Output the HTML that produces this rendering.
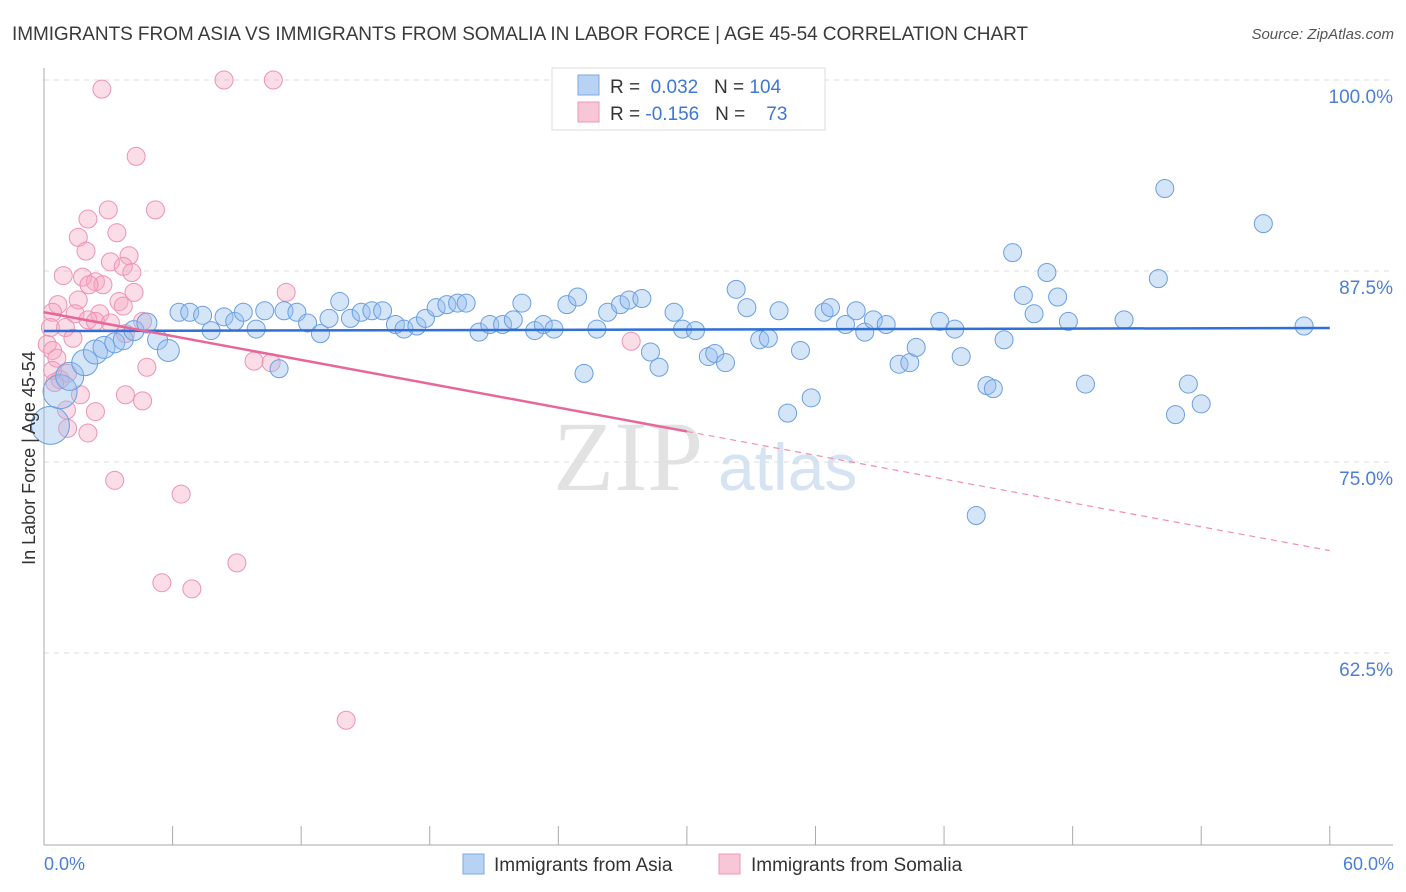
<!DOCTYPE html>
<html><head><meta charset="utf-8"><style>
body{margin:0;background:#fff;font-family:"Liberation Sans",sans-serif;}
#wrap{position:relative;width:1406px;height:892px;overflow:hidden;}
</style></head><body>
<div id="wrap">
<svg id="svg" width="1406" height="892">
<text x="12" y="40" font-size="19" fill="#3a3a3a" textLength="1016">IMMIGRANTS FROM ASIA VS IMMIGRANTS FROM SOMALIA IN LABOR FORCE | AGE 45-54 CORRELATION CHART</text>
<text x="1394" y="39" font-size="15" fill="#555" font-style="italic" text-anchor="end">Source: ZipAtlas.com</text>
<text x="553" y="490" font-size="100" fill="#e2e2e2" font-family="Liberation Serif,serif">ZIP</text>
<text x="718" y="490" font-size="66" fill="#d6e3f3">atlas</text>
<g id="grid"></g><g id="axes"></g><g id="pink"></g><g id="blue"></g><g id="lines"></g>
<text transform="translate(35,458) rotate(-90)" font-size="18" fill="#333" text-anchor="middle">In Labor Force | Age 45-54</text>
<text x="44" y="870" font-size="18" fill="#4a7fd8">0.0%</text>
<text x="1394" y="870" font-size="18" fill="#4a7fd8" text-anchor="end">60.0%</text>
<g>
<rect x="552" y="68" width="273" height="62" fill="#fff" stroke="#ddd"/>
<rect x="578" y="75" width="21" height="20" fill="#b8d2f3" stroke="#7aa8e6"/>
<rect x="578" y="102" width="21" height="20" fill="#f8c6d6" stroke="#ee98b4"/>
<text x="610" y="93" font-size="19" fill="#333">R = <tspan fill="#3f77d4">&#160;0.032</tspan>&#160;&#160; N = <tspan fill="#3f77d4">104</tspan></text>
<text x="610" y="120" font-size="19" fill="#333">R = <tspan fill="#3f77d4">-0.156</tspan>&#160;&#160; N = <tspan fill="#3f77d4">&#160;&#160; 73</tspan></text>
</g>
<g>
<rect x="463" y="854" width="21" height="20" fill="#b8d2f3" stroke="#7aa8e6"/>
<text x="494" y="871" font-size="19" fill="#333">Immigrants from Asia</text>
<rect x="719" y="854" width="21" height="20" fill="#f8c6d6" stroke="#ee98b4"/>
<text x="751" y="871" font-size="19" fill="#333">Immigrants from Somalia</text>
</g>
</svg></div>
<script>
const yTicks=[100,87.5,75,62.5];
const yTickLabels=["100.0%","87.5%","75.0%","62.5%"];
const asiaX=[0.3,0.75,1.2,1.9,2.4,2.8,3.3,3.7,4.2,4.8,5.3,5.8,6.3,6.8,7.4,7.8,8.4,8.9,9.3,9.9,10.3,10.97,11.2,11.8,12.3,12.9,13.3,13.8,14.3,14.8,15.3,15.8,16.4,16.8,17.4,17.8,18.3,18.8,19.3,19.7,20.3,20.8,21.4,21.9,22.3,22.9,23.3,23.8,24.4,24.9,25.2,25.8,26.3,26.9,27.3,27.9,28.3,28.7,29.4,29.8,30.4,31,31.3,31.8,32.3,32.8,33.4,33.8,34.3,34.7,35.3,35.8,36.4,36.7,37.4,37.9,38.3,38.7,39.3,39.9,40.4,40.7,41.8,42.5,42.8,43.5,44,44.3,44.8,45.2,45.7,46.2,46.8,47.3,47.8,48.6,50.4,52,52.3,52.8,53.4,54,56.9,58.8];
const asiaY=[77.4,79.6,80.6,81.5,82.2,82.5,82.8,83.0,83.6,84.1,83.0,82.3,84.8,84.8,84.6,83.6,84.5,84.2,84.8,83.7,84.9,81.1,84.9,84.8,84.1,83.4,84.4,85.5,84.4,84.8,84.9,84.9,84.0,83.7,83.9,84.4,85.1,85.3,85.4,85.4,83.5,84.0,84.0,84.3,85.4,83.6,84.0,83.7,85.3,85.8,80.8,83.7,84.8,85.3,85.6,85.7,82.2,81.2,84.8,83.7,83.6,81.9,82.1,81.5,86.3,85.1,83.0,83.1,84.9,78.2,82.3,79.2,84.8,85.1,84.0,84.9,83.5,84.3,84.0,81.4,81.5,82.5,84.2,83.7,81.9,71.5,80.0,79.8,83.0,88.7,85.9,84.7,87.4,85.8,84.2,80.1,84.3,87,92.9,78.1,80.1,78.8,90.6,83.9];
const asiaR=[19,17,14,13,12,11,10,10,10,10,10,11];
const somX=[8.4,10.7,2.7,4.3,3,5.2,2.05,3.4,1.6,1.96,3.97,3.1,3.7,4.1,0.9,1.8,2.4,2.75,2.1,4.2,11.3,1.6,3.5,0.65,3.7,0.4,1.45,2.6,2.05,2.4,3.1,4.6,0.3,1,3.8,1.35,0.15,0.4,0.6,4.8,9.8,10.6,1.1,0.75,1.7,3.8,4.6,1.05,2.4,1.1,2.05,3.3,6.4,9,5.5,6.9,14.1,27.4,0.5,0.4];
const somY=[100,100,99.4,95.0,91.5,91.5,90.9,90.0,89.7,88.8,88.5,88.1,87.8,87.4,87.2,87.1,86.8,86.6,86.6,86.1,86.1,85.6,85.5,85.3,85.2,84.8,84.7,84.7,84.3,84.2,84.1,84.2,83.8,83.8,83.4,83.1,82.7,82.3,81.8,81.2,81.6,81.5,80.8,80.4,79.4,79.4,79.0,78.4,78.3,77.2,76.9,73.8,72.9,68.4,67.1,66.7,58.1,82.9,80.2,81.0];
const asiaTrend=[83.57,83.77];
const somTrend=[84.8,69.2];
const NS="http://www.w3.org/2000/svg";
const X=v=>44+v*21.43, Y=v=>80+(100-v)*15.28;
function mk(tag,attrs,parent){const e=document.createElementNS(NS,tag);for(const k in attrs)e.setAttribute(k,attrs[k]);parent.appendChild(e);return e;}
const grid=document.getElementById('grid'),axes=document.getElementById('axes');
yTicks.forEach((t,i)=>{
 const l=mk('line',{x1:44,x2:1393,y1:Y(t),y2:Y(t),stroke:'#ddd','stroke-dasharray':'5,5'},grid);
 
 
 const tx=mk('text',{x:1393,y:Y(t)+23,'font-size':19,fill:'#4a7fd8','text-anchor':'end'},grid);
 tx.textContent=yTickLabels[i];
 
 
});
const ax=mk('line',{x1:44,x2:44,y1:68,y2:845,stroke:'#aaa'},axes);


const bx=mk('line',{x1:44,x2:1393,y1:845,y2:845,stroke:'#aaa'},axes);


for(let i=0;i<=10;i++){const t=mk('line',{x1:X(i*6),x2:X(i*6),y1:826,y2:845,stroke:'#aaa'},axes);
 
 }
const pg=document.getElementById('pink');
somX.forEach((x,i)=>{const c=mk('circle',{cx:X(x),cy:Y(somY[i]),r:9,fill:'rgba(244,165,192,0.38)',stroke:'#ee93b2','stroke-width':1},pg);
 
 });
const bg=document.getElementById('blue');
asiaX.forEach((x,i)=>{const c=mk('circle',{cx:X(x),cy:Y(asiaY[i]),r:asiaR[i]||9,fill:'rgba(150,190,238,0.4)',stroke:'#6a9fe0','stroke-width':1},bg);
 
 });
const lg=document.getElementById('lines');
const bl=mk('line',{x1:X(0),y1:Y(asiaTrend[0]),x2:X(60),y2:Y(asiaTrend[1]),stroke:'#2f6fd6','stroke-width':2.5},lg);


const sm=v=>somTrend[0]+(somTrend[1]-somTrend[0])*v/60;
const pl=mk('line',{x1:X(0),y1:Y(sm(0)),x2:X(30),y2:Y(sm(30)),stroke:'#e8679a','stroke-width':2.5},lg);


const pd=mk('line',{x1:X(30),y1:Y(sm(30)),x2:X(60),y2:Y(sm(60)),stroke:'#ee8fb0','stroke-width':1.2,'stroke-dasharray':'6,5'},lg);


</script></body></html>
